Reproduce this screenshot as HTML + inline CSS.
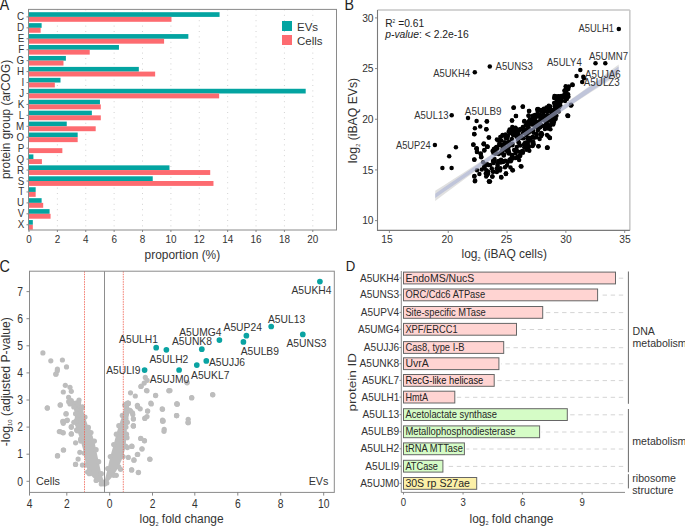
<!DOCTYPE html>
<html><head><meta charset="utf-8"><style>
html,body{margin:0;padding:0;background:#fff;}
svg{display:block;font-family:"Liberation Sans", sans-serif;}
</style></head><body>
<svg width="685" height="526" viewBox="0 0 685 526">
<text transform="translate(-0.20,9.50) scale(0.9091,1)" font-size="15.62" text-anchor="start" fill="#222" >A</text>
<line x1="57.38" y1="9.4" x2="57.38" y2="230.0" stroke="#d2d2d2" stroke-width="1" stroke-dasharray="1 4.4"/>
<line x1="85.76" y1="9.4" x2="85.76" y2="230.0" stroke="#d2d2d2" stroke-width="1" stroke-dasharray="1 4.4"/>
<line x1="114.14" y1="9.4" x2="114.14" y2="230.0" stroke="#d2d2d2" stroke-width="1" stroke-dasharray="1 4.4"/>
<line x1="142.52" y1="9.4" x2="142.52" y2="230.0" stroke="#d2d2d2" stroke-width="1" stroke-dasharray="1 4.4"/>
<line x1="170.90" y1="9.4" x2="170.90" y2="230.0" stroke="#d2d2d2" stroke-width="1" stroke-dasharray="1 4.4"/>
<line x1="199.28" y1="9.4" x2="199.28" y2="230.0" stroke="#d2d2d2" stroke-width="1" stroke-dasharray="1 4.4"/>
<line x1="227.66" y1="9.4" x2="227.66" y2="230.0" stroke="#d2d2d2" stroke-width="1" stroke-dasharray="1 4.4"/>
<line x1="256.04" y1="9.4" x2="256.04" y2="230.0" stroke="#d2d2d2" stroke-width="1" stroke-dasharray="1 4.4"/>
<line x1="284.42" y1="9.4" x2="284.42" y2="230.0" stroke="#d2d2d2" stroke-width="1" stroke-dasharray="1 4.4"/>
<line x1="312.80" y1="9.4" x2="312.80" y2="230.0" stroke="#d2d2d2" stroke-width="1" stroke-dasharray="1 4.4"/>
<rect x="28.5" y="12.20" width="191.07" height="4.7" fill="#03a4a1"/>
<rect x="28.5" y="16.90" width="142.97" height="4.9" fill="#fd6b70"/>
<text transform="translate(24.20,20.40) scale(0.8929,1)" font-size="10.98" text-anchor="end" fill="#333" >C</text>
<line x1="26.5" y1="16.90" x2="28.5" y2="16.90" stroke="#7a7a7a" stroke-width="0.9"/>
<rect x="28.5" y="23.14" width="13.13" height="4.7" fill="#03a4a1"/>
<rect x="28.5" y="27.84" width="12.14" height="4.9" fill="#fd6b70"/>
<text transform="translate(24.20,31.34) scale(0.8929,1)" font-size="10.98" text-anchor="end" fill="#333" >D</text>
<line x1="26.5" y1="27.84" x2="28.5" y2="27.84" stroke="#7a7a7a" stroke-width="0.9"/>
<rect x="28.5" y="34.08" width="159.85" height="4.7" fill="#03a4a1"/>
<rect x="28.5" y="38.78" width="135.59" height="4.9" fill="#fd6b70"/>
<text transform="translate(24.20,42.28) scale(0.8929,1)" font-size="10.98" text-anchor="end" fill="#333" >E</text>
<line x1="26.5" y1="38.78" x2="28.5" y2="38.78" stroke="#7a7a7a" stroke-width="0.9"/>
<rect x="28.5" y="45.02" width="90.46" height="4.7" fill="#03a4a1"/>
<rect x="28.5" y="49.72" width="61.23" height="4.9" fill="#fd6b70"/>
<text transform="translate(24.20,53.22) scale(0.8929,1)" font-size="10.98" text-anchor="end" fill="#333" >F</text>
<line x1="26.5" y1="49.72" x2="28.5" y2="49.72" stroke="#7a7a7a" stroke-width="0.9"/>
<rect x="28.5" y="55.96" width="37.39" height="4.7" fill="#03a4a1"/>
<rect x="28.5" y="60.66" width="34.98" height="4.9" fill="#fd6b70"/>
<text transform="translate(24.20,64.16) scale(0.8929,1)" font-size="10.98" text-anchor="end" fill="#333" >G</text>
<line x1="26.5" y1="60.66" x2="28.5" y2="60.66" stroke="#7a7a7a" stroke-width="0.9"/>
<rect x="28.5" y="66.90" width="110.33" height="4.7" fill="#03a4a1"/>
<rect x="28.5" y="71.60" width="126.65" height="4.9" fill="#fd6b70"/>
<text transform="translate(24.20,75.10) scale(0.8929,1)" font-size="10.98" text-anchor="end" fill="#333" >H</text>
<line x1="26.5" y1="71.60" x2="28.5" y2="71.60" stroke="#7a7a7a" stroke-width="0.9"/>
<rect x="28.5" y="77.84" width="32.00" height="4.7" fill="#03a4a1"/>
<rect x="28.5" y="82.54" width="26.33" height="4.9" fill="#fd6b70"/>
<text transform="translate(24.20,86.04) scale(0.8929,1)" font-size="10.98" text-anchor="end" fill="#333" >I</text>
<line x1="26.5" y1="82.54" x2="28.5" y2="82.54" stroke="#7a7a7a" stroke-width="0.9"/>
<rect x="28.5" y="88.78" width="277.20" height="4.7" fill="#03a4a1"/>
<rect x="28.5" y="93.48" width="190.65" height="4.9" fill="#fd6b70"/>
<text transform="translate(24.20,96.98) scale(0.8929,1)" font-size="10.98" text-anchor="end" fill="#333" >J</text>
<line x1="26.5" y1="93.48" x2="28.5" y2="93.48" stroke="#7a7a7a" stroke-width="0.9"/>
<rect x="28.5" y="99.72" width="71.45" height="4.7" fill="#03a4a1"/>
<rect x="28.5" y="104.42" width="72.30" height="4.9" fill="#fd6b70"/>
<text transform="translate(24.20,107.92) scale(0.8929,1)" font-size="10.98" text-anchor="end" fill="#333" >K</text>
<line x1="26.5" y1="104.42" x2="28.5" y2="104.42" stroke="#7a7a7a" stroke-width="0.9"/>
<rect x="28.5" y="110.66" width="63.36" height="4.7" fill="#03a4a1"/>
<rect x="28.5" y="115.36" width="72.30" height="4.9" fill="#fd6b70"/>
<text transform="translate(24.20,118.86) scale(0.8929,1)" font-size="10.98" text-anchor="end" fill="#333" >L</text>
<line x1="26.5" y1="115.36" x2="28.5" y2="115.36" stroke="#7a7a7a" stroke-width="0.9"/>
<rect x="28.5" y="121.60" width="38.25" height="4.7" fill="#03a4a1"/>
<rect x="28.5" y="126.30" width="67.19" height="4.9" fill="#fd6b70"/>
<text transform="translate(24.20,129.80) scale(0.8929,1)" font-size="10.98" text-anchor="end" fill="#333" >M</text>
<line x1="26.5" y1="126.30" x2="28.5" y2="126.30" stroke="#7a7a7a" stroke-width="0.9"/>
<rect x="28.5" y="132.54" width="49.17" height="4.7" fill="#03a4a1"/>
<rect x="28.5" y="137.24" width="49.17" height="4.9" fill="#fd6b70"/>
<text transform="translate(24.20,140.74) scale(0.8929,1)" font-size="10.98" text-anchor="end" fill="#333" >O</text>
<line x1="26.5" y1="137.24" x2="28.5" y2="137.24" stroke="#7a7a7a" stroke-width="0.9"/>
<rect x="28.5" y="148.18" width="33.85" height="4.9" fill="#fd6b70"/>
<text transform="translate(24.20,151.68) scale(0.8929,1)" font-size="10.98" text-anchor="end" fill="#333" >P</text>
<line x1="26.5" y1="148.18" x2="28.5" y2="148.18" stroke="#7a7a7a" stroke-width="0.9"/>
<rect x="28.5" y="154.42" width="4.90" height="4.7" fill="#03a4a1"/>
<rect x="28.5" y="159.12" width="13.41" height="4.9" fill="#fd6b70"/>
<text transform="translate(24.20,162.62) scale(0.8929,1)" font-size="10.98" text-anchor="end" fill="#333" >Q</text>
<line x1="26.5" y1="159.12" x2="28.5" y2="159.12" stroke="#7a7a7a" stroke-width="0.9"/>
<rect x="28.5" y="165.36" width="140.98" height="4.7" fill="#03a4a1"/>
<rect x="28.5" y="170.06" width="181.71" height="4.9" fill="#fd6b70"/>
<text transform="translate(24.20,173.56) scale(0.8929,1)" font-size="10.98" text-anchor="end" fill="#333" >R</text>
<line x1="26.5" y1="170.06" x2="28.5" y2="170.06" stroke="#7a7a7a" stroke-width="0.9"/>
<rect x="28.5" y="176.30" width="124.24" height="4.7" fill="#03a4a1"/>
<rect x="28.5" y="181.00" width="184.97" height="4.9" fill="#fd6b70"/>
<text transform="translate(24.20,184.50) scale(0.8929,1)" font-size="10.98" text-anchor="end" fill="#333" >S</text>
<line x1="26.5" y1="181.00" x2="28.5" y2="181.00" stroke="#7a7a7a" stroke-width="0.9"/>
<rect x="28.5" y="187.24" width="7.17" height="4.7" fill="#03a4a1"/>
<rect x="28.5" y="191.94" width="7.17" height="4.9" fill="#fd6b70"/>
<text transform="translate(24.20,195.44) scale(0.8929,1)" font-size="10.98" text-anchor="end" fill="#333" >T</text>
<line x1="26.5" y1="191.94" x2="28.5" y2="191.94" stroke="#7a7a7a" stroke-width="0.9"/>
<rect x="28.5" y="198.18" width="13.13" height="4.7" fill="#03a4a1"/>
<rect x="28.5" y="202.88" width="14.69" height="4.9" fill="#fd6b70"/>
<text transform="translate(24.20,206.38) scale(0.8929,1)" font-size="10.98" text-anchor="end" fill="#333" >U</text>
<line x1="26.5" y1="202.88" x2="28.5" y2="202.88" stroke="#7a7a7a" stroke-width="0.9"/>
<rect x="28.5" y="209.12" width="21.08" height="4.7" fill="#03a4a1"/>
<rect x="28.5" y="213.82" width="22.07" height="4.9" fill="#fd6b70"/>
<text transform="translate(24.20,217.32) scale(0.8929,1)" font-size="10.98" text-anchor="end" fill="#333" >V</text>
<line x1="26.5" y1="213.82" x2="28.5" y2="213.82" stroke="#7a7a7a" stroke-width="0.9"/>
<rect x="28.5" y="220.06" width="4.33" height="4.7" fill="#03a4a1"/>
<rect x="28.5" y="224.76" width="4.33" height="4.9" fill="#fd6b70"/>
<text transform="translate(24.20,228.26) scale(0.8929,1)" font-size="10.98" text-anchor="end" fill="#333" >X</text>
<line x1="26.5" y1="224.76" x2="28.5" y2="224.76" stroke="#7a7a7a" stroke-width="0.9"/>
<rect x="28.5" y="9.4" width="308.0" height="220.6" fill="none" stroke="#8a8a8a" stroke-width="1"/>
<line x1="29.00" y1="230.0" x2="29.00" y2="232.0" stroke="#7a7a7a" stroke-width="0.9"/>
<text transform="translate(29.00,243.00) scale(0.8929,1)" font-size="11.09" text-anchor="middle" fill="#333" >0</text>
<line x1="57.38" y1="230.0" x2="57.38" y2="232.0" stroke="#7a7a7a" stroke-width="0.9"/>
<text transform="translate(57.38,243.00) scale(0.8929,1)" font-size="11.09" text-anchor="middle" fill="#333" >2</text>
<line x1="85.76" y1="230.0" x2="85.76" y2="232.0" stroke="#7a7a7a" stroke-width="0.9"/>
<text transform="translate(85.76,243.00) scale(0.8929,1)" font-size="11.09" text-anchor="middle" fill="#333" >4</text>
<line x1="114.14" y1="230.0" x2="114.14" y2="232.0" stroke="#7a7a7a" stroke-width="0.9"/>
<text transform="translate(114.14,243.00) scale(0.8929,1)" font-size="11.09" text-anchor="middle" fill="#333" >6</text>
<line x1="142.52" y1="230.0" x2="142.52" y2="232.0" stroke="#7a7a7a" stroke-width="0.9"/>
<text transform="translate(142.52,243.00) scale(0.8929,1)" font-size="11.09" text-anchor="middle" fill="#333" >8</text>
<line x1="170.90" y1="230.0" x2="170.90" y2="232.0" stroke="#7a7a7a" stroke-width="0.9"/>
<text transform="translate(170.90,243.00) scale(0.8929,1)" font-size="11.09" text-anchor="middle" fill="#333" >10</text>
<line x1="199.28" y1="230.0" x2="199.28" y2="232.0" stroke="#7a7a7a" stroke-width="0.9"/>
<text transform="translate(199.28,243.00) scale(0.8929,1)" font-size="11.09" text-anchor="middle" fill="#333" >12</text>
<line x1="227.66" y1="230.0" x2="227.66" y2="232.0" stroke="#7a7a7a" stroke-width="0.9"/>
<text transform="translate(227.66,243.00) scale(0.8929,1)" font-size="11.09" text-anchor="middle" fill="#333" >14</text>
<line x1="256.04" y1="230.0" x2="256.04" y2="232.0" stroke="#7a7a7a" stroke-width="0.9"/>
<text transform="translate(256.04,243.00) scale(0.8929,1)" font-size="11.09" text-anchor="middle" fill="#333" >16</text>
<line x1="284.42" y1="230.0" x2="284.42" y2="232.0" stroke="#7a7a7a" stroke-width="0.9"/>
<text transform="translate(284.42,243.00) scale(0.8929,1)" font-size="11.09" text-anchor="middle" fill="#333" >18</text>
<line x1="312.80" y1="230.0" x2="312.80" y2="232.0" stroke="#7a7a7a" stroke-width="0.9"/>
<text transform="translate(312.80,243.00) scale(0.8929,1)" font-size="11.09" text-anchor="middle" fill="#333" >20</text>
<text x="182.40" y="258.70" font-size="11.90" text-anchor="middle" fill="#333" textLength="75.6" lengthAdjust="spacingAndGlyphs" >proportion (%)</text>
<text transform="translate(9.9,119.45) rotate(-90)" font-size="11.9" text-anchor="middle" fill="#333" textLength="119.1" lengthAdjust="spacingAndGlyphs">protein group (arCOG)</text>
<rect x="282" y="21" width="10" height="10" fill="#03a4a1"/>
<rect x="282" y="35" width="10" height="10" fill="#fd6b70"/>
<text x="297.00" y="31.00" font-size="11.5" text-anchor="start" fill="#333" >EVs</text>
<text x="297.00" y="45.00" font-size="11.5" text-anchor="start" fill="#333" >Cells</text>
<text transform="translate(345.80,271.40) scale(0.9524,1)" font-size="13.86" text-anchor="start" fill="#222" >D</text>
<line x1="623.2" y1="278.20" x2="617.50" y2="278.20" stroke="#d4d4d4" stroke-width="1" stroke-dasharray="4.4 3.7"/>
<rect x="403.5" y="272.10" width="212.00" height="11.8" fill="#ffd4d2" stroke="#666" stroke-width="1"/>
<text x="405.40" y="281.50" font-size="11.04" text-anchor="start" fill="#262626" textLength="68.9" lengthAdjust="spacingAndGlyphs" >EndoMS/NucS</text>
<text x="399.20" y="281.50" font-size="10.98" text-anchor="end" fill="#333" textLength="39.3" lengthAdjust="spacingAndGlyphs" >A5UKH4</text>
<line x1="399.5" y1="278.00" x2="401.3" y2="278.00" stroke="#7a7a7a" stroke-width="0.9"/>
<line x1="623.2" y1="295.10" x2="599.60" y2="295.10" stroke="#d4d4d4" stroke-width="1" stroke-dasharray="4.4 3.7"/>
<rect x="403.5" y="289.00" width="194.10" height="11.8" fill="#ffd4d2" stroke="#666" stroke-width="1"/>
<text x="405.40" y="298.40" font-size="11.04" text-anchor="start" fill="#262626" textLength="79.8" lengthAdjust="spacingAndGlyphs" >ORC/Cdc6 ATPase</text>
<text x="399.20" y="298.40" font-size="10.98" text-anchor="end" fill="#333" textLength="39.3" lengthAdjust="spacingAndGlyphs" >A5UNS3</text>
<line x1="399.5" y1="294.90" x2="401.3" y2="294.90" stroke="#7a7a7a" stroke-width="0.9"/>
<line x1="623.2" y1="312.60" x2="544.70" y2="312.60" stroke="#d4d4d4" stroke-width="1" stroke-dasharray="4.4 3.7"/>
<rect x="403.5" y="306.50" width="139.20" height="11.8" fill="#ffd4d2" stroke="#666" stroke-width="1"/>
<text x="405.40" y="315.90" font-size="11.04" text-anchor="start" fill="#262626" textLength="80.4" lengthAdjust="spacingAndGlyphs" >Site-specific MTase</text>
<text x="399.20" y="315.90" font-size="10.98" text-anchor="end" fill="#333" textLength="38.4" lengthAdjust="spacingAndGlyphs" >A5UPV4</text>
<line x1="399.5" y1="312.40" x2="401.3" y2="312.40" stroke="#7a7a7a" stroke-width="0.9"/>
<line x1="623.2" y1="329.50" x2="518.50" y2="329.50" stroke="#d4d4d4" stroke-width="1" stroke-dasharray="4.4 3.7"/>
<rect x="403.5" y="323.40" width="113.00" height="11.8" fill="#ffd4d2" stroke="#666" stroke-width="1"/>
<text x="405.40" y="332.80" font-size="11.04" text-anchor="start" fill="#262626" textLength="52.2" lengthAdjust="spacingAndGlyphs" >XPF/ERCC1</text>
<text x="399.20" y="332.80" font-size="10.98" text-anchor="end" fill="#333" textLength="41.1" lengthAdjust="spacingAndGlyphs" >A5UMG4</text>
<line x1="399.5" y1="329.30" x2="401.3" y2="329.30" stroke="#7a7a7a" stroke-width="0.9"/>
<line x1="623.2" y1="347.70" x2="505.70" y2="347.70" stroke="#d4d4d4" stroke-width="1" stroke-dasharray="4.4 3.7"/>
<rect x="403.5" y="341.60" width="100.20" height="11.8" fill="#ffd4d2" stroke="#666" stroke-width="1"/>
<text x="405.40" y="351.00" font-size="11.04" text-anchor="start" fill="#262626" textLength="59.2" lengthAdjust="spacingAndGlyphs" >Cas8, type I-B</text>
<text x="399.20" y="351.00" font-size="10.98" text-anchor="end" fill="#333" textLength="35.4" lengthAdjust="spacingAndGlyphs" >A5UJJ6</text>
<line x1="399.5" y1="347.50" x2="401.3" y2="347.50" stroke="#7a7a7a" stroke-width="0.9"/>
<line x1="623.2" y1="363.90" x2="500.90" y2="363.90" stroke="#d4d4d4" stroke-width="1" stroke-dasharray="4.4 3.7"/>
<rect x="403.5" y="357.80" width="95.40" height="11.8" fill="#ffd4d2" stroke="#666" stroke-width="1"/>
<text x="405.40" y="367.20" font-size="11.04" text-anchor="start" fill="#262626" textLength="23.3" lengthAdjust="spacingAndGlyphs" >UvrA</text>
<text x="399.20" y="367.20" font-size="10.98" text-anchor="end" fill="#333" textLength="39.7" lengthAdjust="spacingAndGlyphs" >A5UNK8</text>
<line x1="399.5" y1="363.70" x2="401.3" y2="363.70" stroke="#7a7a7a" stroke-width="0.9"/>
<line x1="623.2" y1="380.60" x2="496.20" y2="380.60" stroke="#d4d4d4" stroke-width="1" stroke-dasharray="4.4 3.7"/>
<rect x="403.5" y="374.50" width="90.70" height="11.8" fill="#ffd4d2" stroke="#666" stroke-width="1"/>
<text x="405.40" y="383.90" font-size="11.04" text-anchor="start" fill="#111" textLength="77.9" lengthAdjust="spacingAndGlyphs" >RecG-like helicase</text>
<text x="399.20" y="383.90" font-size="10.98" text-anchor="end" fill="#333" textLength="37.3" lengthAdjust="spacingAndGlyphs" >A5UKL7</text>
<line x1="399.5" y1="380.40" x2="401.3" y2="380.40" stroke="#7a7a7a" stroke-width="0.9"/>
<line x1="623.2" y1="397.30" x2="456.80" y2="397.30" stroke="#d4d4d4" stroke-width="1" stroke-dasharray="4.4 3.7"/>
<rect x="403.5" y="391.20" width="51.30" height="11.8" fill="#ffd4d2" stroke="#666" stroke-width="1"/>
<text x="405.40" y="400.60" font-size="11.04" text-anchor="start" fill="#262626" textLength="22.7" lengthAdjust="spacingAndGlyphs" >HmtA</text>
<text x="399.20" y="400.60" font-size="10.98" text-anchor="end" fill="#333" textLength="37.7" lengthAdjust="spacingAndGlyphs" >A5ULH1</text>
<line x1="399.5" y1="397.10" x2="401.3" y2="397.10" stroke="#7a7a7a" stroke-width="0.9"/>
<line x1="623.2" y1="414.80" x2="569.30" y2="414.80" stroke="#d4d4d4" stroke-width="1" stroke-dasharray="4.4 3.7"/>
<rect x="403.5" y="408.70" width="163.80" height="11.8" fill="#d5fcc6" stroke="#666" stroke-width="1"/>
<text x="405.40" y="418.10" font-size="11.04" text-anchor="start" fill="#262626" textLength="91.6" lengthAdjust="spacingAndGlyphs" >Acetolactate synthase</text>
<text x="399.20" y="418.10" font-size="10.98" text-anchor="end" fill="#333" textLength="36.7" lengthAdjust="spacingAndGlyphs" >A5UL13</text>
<line x1="399.5" y1="414.60" x2="401.3" y2="414.60" stroke="#7a7a7a" stroke-width="0.9"/>
<line x1="623.2" y1="432.00" x2="541.60" y2="432.00" stroke="#d4d4d4" stroke-width="1" stroke-dasharray="4.4 3.7"/>
<rect x="403.5" y="425.90" width="136.10" height="11.8" fill="#d5fcc6" stroke="#666" stroke-width="1"/>
<text x="405.40" y="435.30" font-size="11.04" text-anchor="start" fill="#262626" textLength="110" lengthAdjust="spacingAndGlyphs" >Metallophosphodiesterase</text>
<text x="399.20" y="435.30" font-size="10.98" text-anchor="end" fill="#333" textLength="37.9" lengthAdjust="spacingAndGlyphs" >A5ULB9</text>
<line x1="399.5" y1="431.80" x2="401.3" y2="431.80" stroke="#7a7a7a" stroke-width="0.9"/>
<line x1="623.2" y1="449.00" x2="466.40" y2="449.00" stroke="#d4d4d4" stroke-width="1" stroke-dasharray="4.4 3.7"/>
<rect x="403.5" y="442.90" width="60.90" height="11.8" fill="#d5fcc6" stroke="#666" stroke-width="1"/>
<text x="405.40" y="452.30" font-size="11.04" text-anchor="start" fill="#262626" textLength="57.5" lengthAdjust="spacingAndGlyphs" >tRNA MTTase</text>
<text x="399.20" y="452.30" font-size="10.98" text-anchor="end" fill="#333" textLength="38.8" lengthAdjust="spacingAndGlyphs" >A5ULH2</text>
<line x1="399.5" y1="448.80" x2="401.3" y2="448.80" stroke="#7a7a7a" stroke-width="0.9"/>
<line x1="623.2" y1="466.40" x2="444.90" y2="466.40" stroke="#d4d4d4" stroke-width="1" stroke-dasharray="4.4 3.7"/>
<rect x="403.5" y="460.30" width="39.40" height="11.8" fill="#d5fcc6" stroke="#666" stroke-width="1"/>
<text x="405.40" y="469.70" font-size="11.04" text-anchor="start" fill="#262626" textLength="32.6" lengthAdjust="spacingAndGlyphs" >ATCase</text>
<text x="399.20" y="469.70" font-size="10.98" text-anchor="end" fill="#333" textLength="33.9" lengthAdjust="spacingAndGlyphs" >A5ULI9</text>
<line x1="399.5" y1="466.20" x2="401.3" y2="466.20" stroke="#7a7a7a" stroke-width="0.9"/>
<line x1="623.2" y1="483.60" x2="478.70" y2="483.60" stroke="#d4d4d4" stroke-width="1" stroke-dasharray="4.4 3.7"/>
<rect x="403.5" y="477.50" width="73.20" height="11.8" fill="#fcf0a8" stroke="#666" stroke-width="1"/>
<text x="405.40" y="486.90" font-size="11.04" text-anchor="start" fill="#262626" textLength="64.5" lengthAdjust="spacingAndGlyphs" >30S rp S27ae</text>
<text x="399.20" y="486.90" font-size="10.98" text-anchor="end" fill="#333" textLength="39.0" lengthAdjust="spacingAndGlyphs" >A5UJM0</text>
<line x1="399.5" y1="483.40" x2="401.3" y2="483.40" stroke="#7a7a7a" stroke-width="0.9"/>
<polyline points="401.3,271 401.3,492.4 625,492.4" fill="none" stroke="#8a8a8a" stroke-width="1"/>
<line x1="403.50" y1="492.4" x2="403.50" y2="494.5" stroke="#7a7a7a" stroke-width="0.9"/>
<text transform="translate(403.50,506.40) scale(0.8929,1)" font-size="10.75" text-anchor="middle" fill="#333" >0</text>
<line x1="463.05" y1="492.4" x2="463.05" y2="494.5" stroke="#7a7a7a" stroke-width="0.9"/>
<text transform="translate(463.05,506.40) scale(0.8929,1)" font-size="10.75" text-anchor="middle" fill="#333" >3</text>
<line x1="522.60" y1="492.4" x2="522.60" y2="494.5" stroke="#7a7a7a" stroke-width="0.9"/>
<text transform="translate(522.60,506.40) scale(0.8929,1)" font-size="10.75" text-anchor="middle" fill="#333" >6</text>
<line x1="582.15" y1="492.4" x2="582.15" y2="494.5" stroke="#7a7a7a" stroke-width="0.9"/>
<text transform="translate(582.15,506.40) scale(0.8929,1)" font-size="10.75" text-anchor="middle" fill="#333" >9</text>
<text x="511.5" y="522.7" font-size="11.9" text-anchor="middle" fill="#333" textLength="83.9" lengthAdjust="spacingAndGlyphs">log<tspan font-size="5.5" dy="2.5">2</tspan><tspan dy="-2.5"> fold change</tspan></text>
<text transform="translate(356.3,382.2) rotate(-90)" font-size="11.3" text-anchor="middle" fill="#333" textLength="58.6" lengthAdjust="spacingAndGlyphs">protein ID</text>
<line x1="628.4" y1="271.5" x2="628.4" y2="403.8" stroke="#6a6a6a" stroke-width="1"/>
<line x1="628.4" y1="409" x2="628.4" y2="472.2" stroke="#6a6a6a" stroke-width="1"/>
<line x1="628.4" y1="474.2" x2="628.4" y2="488.4" stroke="#6a6a6a" stroke-width="1"/>
<text transform="translate(632.50,335.00) scale(0.9434,1)" font-size="11.24" text-anchor="start" fill="#333" >DNA</text>
<text transform="translate(632.50,346.50) scale(0.9434,1)" font-size="11.24" text-anchor="start" fill="#333" >metabolism</text>
<text transform="translate(632.30,444.60) scale(0.9434,1)" font-size="11.24" text-anchor="start" fill="#333" >metabolism</text>
<text transform="translate(632.30,482.10) scale(0.9434,1)" font-size="11.24" text-anchor="start" fill="#333" >ribosome</text>
<text transform="translate(632.30,493.60) scale(0.9434,1)" font-size="11.24" text-anchor="start" fill="#333" >structure</text>
<text transform="translate(344.40,10.40) scale(0.8929,1)" font-size="15.90" text-anchor="start" fill="#222" >B</text>
<line x1="377.5" y1="10.0" x2="629.85" y2="10.0" stroke="#c6c6c6" stroke-width="1.5"/>
<line x1="629.85" y1="10.0" x2="629.85" y2="230.4" stroke="#c6c6c6" stroke-width="1.5"/>
<polyline points="377.5,10.0 377.5,230.4 629.85,230.4" fill="none" stroke="#7a7a7a" stroke-width="1.1"/>
<line x1="375.0" y1="220.60" x2="377.5" y2="220.60" stroke="#7a7a7a" stroke-width="0.9"/>
<text transform="translate(373.60,224.30) scale(0.8929,1)" font-size="11.54" text-anchor="end" fill="#333" >10</text>
<line x1="375.0" y1="169.93" x2="377.5" y2="169.93" stroke="#7a7a7a" stroke-width="0.9"/>
<text transform="translate(373.60,173.62) scale(0.8929,1)" font-size="11.54" text-anchor="end" fill="#333" >15</text>
<line x1="375.0" y1="119.25" x2="377.5" y2="119.25" stroke="#7a7a7a" stroke-width="0.9"/>
<text transform="translate(373.60,122.95) scale(0.8929,1)" font-size="11.54" text-anchor="end" fill="#333" >20</text>
<line x1="375.0" y1="68.57" x2="377.5" y2="68.57" stroke="#7a7a7a" stroke-width="0.9"/>
<text transform="translate(373.60,72.27) scale(0.8929,1)" font-size="11.54" text-anchor="end" fill="#333" >25</text>
<line x1="375.0" y1="17.90" x2="377.5" y2="17.90" stroke="#7a7a7a" stroke-width="0.9"/>
<text transform="translate(373.60,21.60) scale(0.8929,1)" font-size="11.54" text-anchor="end" fill="#333" >30</text>
<line x1="389.40" y1="230.4" x2="389.40" y2="232.9" stroke="#7a7a7a" stroke-width="0.9"/>
<text transform="translate(386.90,243.20) scale(0.8929,1)" font-size="11.54" text-anchor="middle" fill="#333" >15</text>
<line x1="448.22" y1="230.4" x2="448.22" y2="232.9" stroke="#7a7a7a" stroke-width="0.9"/>
<text transform="translate(447.30,243.20) scale(0.8929,1)" font-size="11.54" text-anchor="middle" fill="#333" >20</text>
<line x1="507.05" y1="230.4" x2="507.05" y2="232.9" stroke="#7a7a7a" stroke-width="0.9"/>
<text transform="translate(506.50,243.20) scale(0.8929,1)" font-size="11.54" text-anchor="middle" fill="#333" >25</text>
<line x1="565.88" y1="230.4" x2="565.88" y2="232.9" stroke="#7a7a7a" stroke-width="0.9"/>
<text transform="translate(565.90,243.20) scale(0.8929,1)" font-size="11.54" text-anchor="middle" fill="#333" >30</text>
<line x1="624.70" y1="230.4" x2="624.70" y2="232.9" stroke="#7a7a7a" stroke-width="0.9"/>
<text transform="translate(624.90,243.20) scale(0.8929,1)" font-size="11.54" text-anchor="middle" fill="#333" >35</text>
<text x="504.2" y="258.2" font-size="12" text-anchor="middle" fill="#333" textLength="85.4" lengthAdjust="spacingAndGlyphs">log<tspan font-size="5.5" dy="2.5">2</tspan><tspan dy="-2.5"> (iBAQ cells)</tspan></text>
<text transform="translate(357.3,120.5) rotate(-90)" font-size="12" text-anchor="middle" fill="#333" textLength="85.3" lengthAdjust="spacingAndGlyphs">log<tspan font-size="5.5" dy="2.5">2</tspan><tspan dy="-2.5"> (iBAQ EVs)</tspan></text>
<text x="385.2" y="27" font-size="10.5" fill="#222" textLength="38.9" lengthAdjust="spacingAndGlyphs">R<tspan font-size="5" dy="-4.5">2</tspan><tspan dy="4.5"> =0.61</tspan></text>
<text x="385.2" y="38.2" font-size="10.5" fill="#222" textLength="83.6" lengthAdjust="spacingAndGlyphs"><tspan font-style="italic">p-value</tspan>: &lt; 2.2e-16</text>
<g fill="#000"><circle cx="451.7" cy="115.2" r="2.25"/><circle cx="468.0" cy="117.9" r="2.25"/><circle cx="476.6" cy="121.1" r="2.25"/><circle cx="486.8" cy="121.5" r="2.25"/><circle cx="480.2" cy="126.4" r="2.25"/><circle cx="474.9" cy="128.2" r="2.25"/><circle cx="486.3" cy="129.2" r="2.25"/><circle cx="474.2" cy="133.9" r="2.25"/><circle cx="488.7" cy="137.5" r="2.25"/><circle cx="434.9" cy="144.9" r="2.25"/><circle cx="455.9" cy="147.2" r="2.25"/><circle cx="473.3" cy="144.7" r="2.25"/><circle cx="476.6" cy="148.3" r="2.25"/><circle cx="483.7" cy="144.2" r="2.25"/><circle cx="487.0" cy="146.6" r="2.25"/><circle cx="449.2" cy="156.3" r="2.25"/><circle cx="442.4" cy="167.9" r="2.25"/><circle cx="451.6" cy="167.9" r="2.25"/><circle cx="483.8" cy="144.0" r="2.25"/><circle cx="487.5" cy="146.8" r="2.25"/><circle cx="476.7" cy="148.7" r="2.25"/><circle cx="477.0" cy="151.7" r="2.25"/><circle cx="484.4" cy="149.9" r="2.25"/><circle cx="480.7" cy="153.6" r="2.25"/><circle cx="481.3" cy="156.7" r="2.25"/><circle cx="474.3" cy="159.4" r="2.25"/><circle cx="483.2" cy="162.2" r="2.25"/><circle cx="493.0" cy="151.1" r="2.25"/><circle cx="495.5" cy="148.0" r="2.25"/><circle cx="499.2" cy="144.9" r="2.25"/><circle cx="493.0" cy="161.0" r="2.25"/><circle cx="477.0" cy="170.3" r="2.25"/><circle cx="479.4" cy="174.0" r="2.25"/><circle cx="474.3" cy="176.5" r="2.25"/><circle cx="475.1" cy="180.5" r="2.25"/><circle cx="488.1" cy="171.5" r="2.25"/><circle cx="486.2" cy="176.5" r="2.25"/><circle cx="492.4" cy="176.5" r="2.25"/><circle cx="489.1" cy="181.8" r="2.25"/><circle cx="501.1" cy="177.1" r="2.25"/><circle cx="506.0" cy="173.6" r="2.25"/><circle cx="484.4" cy="167.8" r="2.25"/><circle cx="491.8" cy="168.4" r="2.25"/><circle cx="496.7" cy="168.4" r="2.25"/><circle cx="513.5" cy="107.8" r="2.25"/><circle cx="522.8" cy="106.4" r="2.25"/><circle cx="529.2" cy="110.9" r="2.25"/><circle cx="515.9" cy="115.9" r="2.25"/><circle cx="528.7" cy="115.6" r="2.25"/><circle cx="512.1" cy="120.6" r="2.25"/><circle cx="524.4" cy="121.1" r="2.25"/><circle cx="486.9" cy="121.3" r="2.25"/><circle cx="486.4" cy="129.2" r="2.25"/><circle cx="537.8" cy="109.2" r="2.25"/><circle cx="534.9" cy="114.9" r="2.25"/><circle cx="547.0" cy="147.8" r="2.25"/><circle cx="538.5" cy="146.3" r="2.25"/><circle cx="529.3" cy="150.8" r="2.25"/><circle cx="520.8" cy="166.2" r="2.25"/><circle cx="519.1" cy="160.0" r="2.25"/><circle cx="512.8" cy="170.2" r="2.25"/><circle cx="506.0" cy="173.6" r="2.25"/><circle cx="501.4" cy="177.6" r="2.25"/><circle cx="492.3" cy="176.5" r="2.25"/><circle cx="490.0" cy="181.6" r="2.25"/><circle cx="493.4" cy="161.1" r="2.25"/><circle cx="498.6" cy="161.1" r="2.25"/><circle cx="509.4" cy="161.1" r="2.25"/><circle cx="510.5" cy="167.4" r="2.25"/><circle cx="595.5" cy="63.3" r="2.25"/><circle cx="605.3" cy="63.3" r="2.25"/><circle cx="580.3" cy="69.9" r="2.25"/><circle cx="576.5" cy="76.0" r="2.25"/><circle cx="583.3" cy="76.7" r="2.25"/><circle cx="584.0" cy="78.2" r="2.25"/><circle cx="582.2" cy="82.0" r="2.25"/><circle cx="572.7" cy="85.1" r="2.25"/><circle cx="568.9" cy="86.6" r="2.25"/><circle cx="565.8" cy="88.9" r="2.25"/><circle cx="565.0" cy="90.4" r="2.25"/><circle cx="568.1" cy="94.2" r="2.25"/><circle cx="563.6" cy="96.5" r="2.25"/><circle cx="555.2" cy="96.5" r="2.25"/><circle cx="556.7" cy="101.0" r="2.25"/><circle cx="561.3" cy="99.5" r="2.25"/><circle cx="565.0" cy="101.0" r="2.25"/><circle cx="571.2" cy="104.8" r="2.25"/><circle cx="567.4" cy="115.5" r="2.25"/><circle cx="553.7" cy="118.5" r="2.25"/><circle cx="551.4" cy="123.8" r="2.25"/><circle cx="568.1" cy="115.8" r="2.25"/><circle cx="571.3" cy="105.3" r="2.25"/><circle cx="554.4" cy="119.0" r="2.25"/><circle cx="553.2" cy="124.6" r="2.25"/><circle cx="550.4" cy="129.2" r="2.25"/><circle cx="549.8" cy="137.8" r="2.25"/><circle cx="547.0" cy="134.9" r="2.25"/><circle cx="547.5" cy="147.7" r="2.25"/><circle cx="538.4" cy="146.3" r="2.25"/><circle cx="539.6" cy="138.9" r="2.25"/><circle cx="537.3" cy="109.3" r="2.25"/><circle cx="618.8" cy="28.9" r="2.25"/><circle cx="474.8" cy="72.3" r="2.25"/><circle cx="489.8" cy="66.5" r="2.25"/><circle cx="513.8" cy="107.6" r="2.25"/><circle cx="522.8" cy="106.7" r="2.25"/><circle cx="529.0" cy="110.9" r="2.25"/><circle cx="516.0" cy="116.0" r="2.25"/><circle cx="528.5" cy="115.7" r="2.25"/><circle cx="511.9" cy="120.4" r="2.25"/><circle cx="524.2" cy="121.4" r="2.25"/><circle cx="538.0" cy="109.0" r="2.25"/><circle cx="548.5" cy="136.6" r="2.25"/><circle cx="549.9" cy="138.0" r="2.25"/><circle cx="547.5" cy="147.5" r="2.25"/><circle cx="474.4" cy="176.0" r="2.25"/><circle cx="474.9" cy="181.2" r="2.25"/><circle cx="489.0" cy="181.2" r="2.25"/><circle cx="505.8" cy="173.9" r="2.25"/><circle cx="512.5" cy="170.2" r="2.25"/><circle cx="521.4" cy="166.6" r="2.25"/><circle cx="474.4" cy="159.8" r="2.25"/><circle cx="473.4" cy="144.6" r="2.25"/><circle cx="474.4" cy="134.2" r="2.25"/><circle cx="489.0" cy="137.5" r="2.25"/><circle cx="496.9" cy="139.4" r="2.25"/><circle cx="483.8" cy="143.6" r="2.25"/><circle cx="487.5" cy="146.7" r="2.25"/><circle cx="476.5" cy="148.8" r="2.25"/><circle cx="477.0" cy="152.0" r="2.25"/><circle cx="484.3" cy="150.4" r="2.25"/><circle cx="480.7" cy="154.0" r="2.25"/><circle cx="481.2" cy="157.2" r="2.25"/><circle cx="492.7" cy="150.9" r="2.25"/><circle cx="499.5" cy="143.6" r="2.25"/><circle cx="555.7" cy="118.7" r="2.25"/><circle cx="553.8" cy="122.5" r="2.25"/><circle cx="568.0" cy="115.9" r="2.25"/><circle cx="570.9" cy="105.4" r="2.25"/><circle cx="534.3" cy="120.3" r="2.25"/><circle cx="558.7" cy="100.1" r="2.25"/><circle cx="540.6" cy="118.1" r="2.25"/><circle cx="496.4" cy="147.0" r="2.25"/><circle cx="507.5" cy="138.1" r="2.25"/><circle cx="500.3" cy="137.0" r="2.25"/><circle cx="507.4" cy="148.4" r="2.25"/><circle cx="534.6" cy="125.9" r="2.25"/><circle cx="564.4" cy="90.7" r="2.25"/><circle cx="523.0" cy="128.5" r="2.25"/><circle cx="502.4" cy="160.9" r="2.25"/><circle cx="546.5" cy="107.6" r="2.25"/><circle cx="524.4" cy="144.4" r="2.25"/><circle cx="542.5" cy="116.0" r="2.25"/><circle cx="559.8" cy="102.9" r="2.25"/><circle cx="522.2" cy="137.9" r="2.25"/><circle cx="526.6" cy="133.0" r="2.25"/><circle cx="557.0" cy="99.3" r="2.25"/><circle cx="508.7" cy="131.8" r="2.25"/><circle cx="503.7" cy="155.6" r="2.25"/><circle cx="537.9" cy="130.6" r="2.25"/><circle cx="546.1" cy="125.6" r="2.25"/><circle cx="561.2" cy="96.0" r="2.25"/><circle cx="567.0" cy="97.6" r="2.25"/><circle cx="516.1" cy="128.9" r="2.25"/><circle cx="560.4" cy="98.3" r="2.25"/><circle cx="532.0" cy="124.5" r="2.25"/><circle cx="509.2" cy="141.7" r="2.25"/><circle cx="554.9" cy="108.5" r="2.25"/><circle cx="559.0" cy="107.4" r="2.25"/><circle cx="552.9" cy="110.3" r="2.25"/><circle cx="519.5" cy="129.6" r="2.25"/><circle cx="515.5" cy="130.7" r="2.25"/><circle cx="540.3" cy="121.1" r="2.25"/><circle cx="523.9" cy="130.3" r="2.25"/><circle cx="558.3" cy="96.2" r="2.25"/><circle cx="532.4" cy="142.0" r="2.25"/><circle cx="544.9" cy="129.0" r="2.25"/><circle cx="526.8" cy="133.4" r="2.25"/><circle cx="502.5" cy="151.6" r="2.25"/><circle cx="524.3" cy="147.3" r="2.25"/><circle cx="501.3" cy="152.9" r="2.25"/><circle cx="544.4" cy="110.4" r="2.25"/><circle cx="522.8" cy="126.9" r="2.25"/><circle cx="496.8" cy="171.9" r="2.25"/><circle cx="525.6" cy="125.4" r="2.25"/><circle cx="507.7" cy="162.0" r="2.25"/><circle cx="550.2" cy="125.4" r="2.25"/><circle cx="541.2" cy="110.0" r="2.25"/><circle cx="502.0" cy="144.7" r="2.25"/><circle cx="532.3" cy="120.1" r="2.25"/><circle cx="551.9" cy="121.9" r="2.25"/><circle cx="523.7" cy="138.2" r="2.25"/><circle cx="528.7" cy="147.1" r="2.25"/><circle cx="555.3" cy="104.9" r="2.25"/><circle cx="541.3" cy="111.6" r="2.25"/><circle cx="528.9" cy="137.8" r="2.25"/><circle cx="547.3" cy="112.0" r="2.25"/><circle cx="526.3" cy="146.4" r="2.25"/><circle cx="559.1" cy="104.8" r="2.25"/><circle cx="553.0" cy="110.8" r="2.25"/><circle cx="488.0" cy="173.6" r="2.25"/><circle cx="481.8" cy="169.5" r="2.25"/><circle cx="502.2" cy="150.4" r="2.25"/><circle cx="537.4" cy="113.9" r="2.25"/><circle cx="512.3" cy="156.6" r="2.25"/><circle cx="495.5" cy="153.8" r="2.25"/><circle cx="526.3" cy="149.7" r="2.25"/><circle cx="533.3" cy="118.1" r="2.25"/><circle cx="508.8" cy="146.8" r="2.25"/><circle cx="515.8" cy="134.8" r="2.25"/><circle cx="546.4" cy="121.6" r="2.25"/><circle cx="507.3" cy="136.3" r="2.25"/><circle cx="495.5" cy="151.5" r="2.25"/><circle cx="513.3" cy="130.5" r="2.25"/><circle cx="559.6" cy="98.1" r="2.25"/><circle cx="516.2" cy="131.7" r="2.25"/><circle cx="536.6" cy="134.7" r="2.25"/><circle cx="534.9" cy="123.1" r="2.25"/><circle cx="558.7" cy="96.6" r="2.25"/><circle cx="566.8" cy="98.9" r="2.25"/><circle cx="540.4" cy="116.9" r="2.25"/><circle cx="532.1" cy="137.6" r="2.25"/><circle cx="515.7" cy="158.0" r="2.25"/><circle cx="512.2" cy="154.9" r="2.25"/><circle cx="493.4" cy="152.9" r="2.25"/><circle cx="559.1" cy="106.9" r="2.25"/><circle cx="543.2" cy="112.5" r="2.25"/><circle cx="538.3" cy="123.7" r="2.25"/><circle cx="566.8" cy="95.5" r="2.25"/><circle cx="539.1" cy="127.7" r="2.25"/><circle cx="541.2" cy="135.9" r="2.25"/><circle cx="541.3" cy="124.8" r="2.25"/><circle cx="550.3" cy="106.4" r="2.25"/><circle cx="527.2" cy="143.3" r="2.25"/><circle cx="522.9" cy="152.8" r="2.25"/><circle cx="502.6" cy="135.1" r="2.25"/><circle cx="497.6" cy="165.7" r="2.25"/><circle cx="551.6" cy="113.8" r="2.25"/><circle cx="568.4" cy="96.7" r="2.25"/><circle cx="486.3" cy="170.3" r="2.25"/><circle cx="535.7" cy="117.2" r="2.25"/><circle cx="539.9" cy="110.1" r="2.25"/><circle cx="548.5" cy="117.7" r="2.25"/><circle cx="520.0" cy="155.7" r="2.25"/><circle cx="497.5" cy="164.1" r="2.25"/><circle cx="559.1" cy="99.1" r="2.25"/><circle cx="510.8" cy="161.2" r="2.25"/><circle cx="497.3" cy="148.8" r="2.25"/><circle cx="539.5" cy="116.5" r="2.25"/><circle cx="484.2" cy="166.5" r="2.25"/><circle cx="520.2" cy="155.7" r="2.25"/><circle cx="485.8" cy="173.5" r="2.25"/><circle cx="526.5" cy="142.5" r="2.25"/><circle cx="519.3" cy="137.0" r="2.25"/><circle cx="540.9" cy="125.7" r="2.25"/><circle cx="518.2" cy="156.6" r="2.25"/><circle cx="538.9" cy="121.5" r="2.25"/><circle cx="515.1" cy="129.1" r="2.25"/><circle cx="527.7" cy="143.1" r="2.25"/><circle cx="528.7" cy="121.6" r="2.25"/><circle cx="496.9" cy="147.4" r="2.25"/><circle cx="546.7" cy="116.2" r="2.25"/><circle cx="540.2" cy="127.2" r="2.25"/><circle cx="505.5" cy="134.6" r="2.25"/><circle cx="519.1" cy="142.9" r="2.25"/><circle cx="555.5" cy="96.3" r="2.25"/><circle cx="554.7" cy="115.6" r="2.25"/><circle cx="561.0" cy="101.6" r="2.25"/><circle cx="525.6" cy="129.9" r="2.25"/><circle cx="532.8" cy="145.6" r="2.25"/><circle cx="527.5" cy="128.6" r="2.25"/><circle cx="539.2" cy="114.9" r="2.25"/><circle cx="512.8" cy="127.7" r="2.25"/><circle cx="554.1" cy="102.9" r="2.25"/><circle cx="518.5" cy="135.1" r="2.25"/><circle cx="505.3" cy="160.8" r="2.25"/><circle cx="506.0" cy="138.2" r="2.25"/><circle cx="543.5" cy="126.1" r="2.25"/><circle cx="487.8" cy="173.8" r="2.25"/><circle cx="564.2" cy="95.2" r="2.25"/><circle cx="548.8" cy="105.8" r="2.25"/><circle cx="547.8" cy="126.3" r="2.25"/><circle cx="507.2" cy="151.6" r="2.25"/><circle cx="534.1" cy="124.3" r="2.25"/><circle cx="512.5" cy="143.7" r="2.25"/><circle cx="566.0" cy="87.1" r="2.25"/><circle cx="499.3" cy="140.1" r="2.25"/><circle cx="528.7" cy="127.9" r="2.25"/><circle cx="493.8" cy="148.9" r="2.25"/><circle cx="533.0" cy="120.9" r="2.25"/><circle cx="555.8" cy="97.8" r="2.25"/><circle cx="510.6" cy="131.9" r="2.25"/><circle cx="568.3" cy="89.1" r="2.25"/><circle cx="533.0" cy="143.3" r="2.25"/><circle cx="543.8" cy="120.0" r="2.25"/><circle cx="544.5" cy="111.2" r="2.25"/><circle cx="566.1" cy="96.2" r="2.25"/><circle cx="539.6" cy="125.6" r="2.25"/><circle cx="490.2" cy="164.9" r="2.25"/><circle cx="503.1" cy="161.9" r="2.25"/><circle cx="487.1" cy="175.0" r="2.25"/><circle cx="505.0" cy="167.3" r="2.25"/><circle cx="549.6" cy="110.7" r="2.25"/><circle cx="517.1" cy="150.9" r="2.25"/><circle cx="494.4" cy="161.2" r="2.25"/><circle cx="528.5" cy="125.0" r="2.25"/><circle cx="508.2" cy="149.9" r="2.25"/><circle cx="525.9" cy="131.3" r="2.25"/><circle cx="501.0" cy="159.8" r="2.25"/><circle cx="536.6" cy="137.2" r="2.25"/><circle cx="525.8" cy="130.1" r="2.25"/><circle cx="563.3" cy="96.9" r="2.25"/><circle cx="554.7" cy="114.9" r="2.25"/><circle cx="518.5" cy="142.5" r="2.25"/><circle cx="519.6" cy="130.5" r="2.25"/><circle cx="565.7" cy="86.3" r="2.25"/><circle cx="502.5" cy="146.8" r="2.25"/><circle cx="528.5" cy="123.8" r="2.25"/><circle cx="523.0" cy="133.2" r="2.25"/><circle cx="533.6" cy="144.2" r="2.25"/><circle cx="547.9" cy="126.4" r="2.25"/><circle cx="538.0" cy="127.1" r="2.25"/><circle cx="554.2" cy="98.0" r="2.25"/><circle cx="520.3" cy="152.2" r="2.25"/><circle cx="488.4" cy="164.9" r="2.25"/><circle cx="533.8" cy="122.3" r="2.25"/><circle cx="522.2" cy="151.0" r="2.25"/><circle cx="515.3" cy="135.2" r="2.25"/><circle cx="526.4" cy="124.8" r="2.25"/><circle cx="534.2" cy="137.7" r="2.25"/><circle cx="533.1" cy="129.8" r="2.25"/><circle cx="528.2" cy="147.4" r="2.25"/><circle cx="511.9" cy="138.9" r="2.25"/><circle cx="532.7" cy="137.0" r="2.25"/><circle cx="510.4" cy="132.9" r="2.25"/><circle cx="527.6" cy="130.5" r="2.25"/><circle cx="537.0" cy="116.3" r="2.25"/><circle cx="517.4" cy="157.1" r="2.25"/><circle cx="526.2" cy="135.1" r="2.25"/><circle cx="541.4" cy="133.0" r="2.25"/><circle cx="534.1" cy="121.7" r="2.25"/><circle cx="508.4" cy="150.3" r="2.25"/><circle cx="558.7" cy="111.6" r="2.25"/><circle cx="515.2" cy="150.6" r="2.25"/><circle cx="507.0" cy="165.3" r="2.25"/><circle cx="556.3" cy="106.0" r="2.25"/><circle cx="529.9" cy="119.3" r="2.25"/><circle cx="502.9" cy="161.5" r="2.25"/><circle cx="557.6" cy="98.1" r="2.25"/><circle cx="549.2" cy="118.5" r="2.25"/><circle cx="564.5" cy="94.6" r="2.25"/><circle cx="554.2" cy="119.2" r="2.25"/><circle cx="493.5" cy="163.0" r="2.25"/><circle cx="532.8" cy="117.0" r="2.25"/><circle cx="543.2" cy="116.1" r="2.25"/><circle cx="500.8" cy="162.6" r="2.25"/><circle cx="507.1" cy="143.0" r="2.25"/><circle cx="548.6" cy="107.0" r="2.25"/><circle cx="545.3" cy="115.9" r="2.25"/><circle cx="539.5" cy="125.6" r="2.25"/><circle cx="546.7" cy="123.3" r="2.25"/><circle cx="540.5" cy="134.2" r="2.25"/><circle cx="528.0" cy="124.9" r="2.25"/><circle cx="565.7" cy="96.4" r="2.25"/><circle cx="509.5" cy="159.7" r="2.25"/><circle cx="547.0" cy="125.2" r="2.25"/><circle cx="513.0" cy="134.9" r="2.25"/><circle cx="560.3" cy="105.6" r="2.25"/><circle cx="533.3" cy="142.1" r="2.25"/><circle cx="506.0" cy="137.7" r="2.25"/><circle cx="504.3" cy="145.2" r="2.25"/><circle cx="520.2" cy="145.6" r="2.25"/><circle cx="532.9" cy="115.8" r="2.25"/><circle cx="537.6" cy="111.0" r="2.25"/><circle cx="541.5" cy="111.2" r="2.25"/><circle cx="542.8" cy="118.0" r="2.25"/><circle cx="517.9" cy="132.9" r="2.25"/><circle cx="486.9" cy="164.1" r="2.25"/><circle cx="527.8" cy="138.4" r="2.25"/><circle cx="554.5" cy="95.9" r="2.25"/><circle cx="506.0" cy="149.5" r="2.25"/><circle cx="557.2" cy="100.5" r="2.25"/><circle cx="505.0" cy="147.6" r="2.25"/><circle cx="572.3" cy="84.4" r="2.25"/><circle cx="515.5" cy="127.8" r="2.25"/><circle cx="512.3" cy="127.0" r="2.25"/><circle cx="543.9" cy="108.7" r="2.25"/><circle cx="533.5" cy="132.7" r="2.25"/><circle cx="527.4" cy="142.7" r="2.25"/><circle cx="531.6" cy="121.2" r="2.25"/><circle cx="520.9" cy="136.5" r="2.25"/><circle cx="511.8" cy="155.8" r="2.25"/><circle cx="502.8" cy="149.2" r="2.25"/><circle cx="508.8" cy="153.5" r="2.25"/><circle cx="516.8" cy="146.9" r="2.25"/><circle cx="509.6" cy="129.5" r="2.25"/><circle cx="530.4" cy="138.4" r="2.25"/><circle cx="509.2" cy="152.7" r="2.25"/><circle cx="554.6" cy="112.1" r="2.25"/><circle cx="524.0" cy="144.6" r="2.25"/><circle cx="498.7" cy="154.1" r="2.25"/><circle cx="554.8" cy="105.9" r="2.25"/><circle cx="526.3" cy="142.8" r="2.25"/><circle cx="536.4" cy="125.6" r="2.25"/><circle cx="486.8" cy="174.6" r="2.25"/><circle cx="565.1" cy="94.4" r="2.25"/><circle cx="511.5" cy="129.7" r="2.25"/><circle cx="550.1" cy="108.7" r="2.25"/><circle cx="517.1" cy="135.4" r="2.25"/><circle cx="542.1" cy="134.2" r="2.25"/><circle cx="501.4" cy="140.5" r="2.25"/><circle cx="508.5" cy="143.8" r="2.25"/><circle cx="514.1" cy="150.0" r="2.25"/><circle cx="529.1" cy="140.6" r="2.25"/><circle cx="508.3" cy="142.2" r="2.25"/><circle cx="498.2" cy="140.6" r="2.25"/><circle cx="528.9" cy="132.6" r="2.25"/><circle cx="511.8" cy="158.5" r="2.25"/><circle cx="546.4" cy="125.3" r="2.25"/><circle cx="512.9" cy="132.0" r="2.25"/><circle cx="548.7" cy="108.9" r="2.25"/><circle cx="500.1" cy="161.4" r="2.25"/><circle cx="548.1" cy="110.8" r="2.25"/><circle cx="548.1" cy="118.1" r="2.25"/><circle cx="552.6" cy="118.7" r="2.25"/><circle cx="535.9" cy="126.5" r="2.25"/><circle cx="520.3" cy="129.2" r="2.25"/><circle cx="551.0" cy="120.8" r="2.25"/><circle cx="548.0" cy="128.4" r="2.25"/><circle cx="546.0" cy="122.3" r="2.25"/><circle cx="564.4" cy="96.8" r="2.25"/><circle cx="527.6" cy="122.6" r="2.25"/><circle cx="522.8" cy="129.0" r="2.25"/><circle cx="512.7" cy="158.4" r="2.25"/><circle cx="529.8" cy="121.5" r="2.25"/><circle cx="556.7" cy="110.5" r="2.25"/><circle cx="561.0" cy="96.8" r="2.25"/><circle cx="507.9" cy="135.7" r="2.25"/><circle cx="561.3" cy="97.4" r="2.25"/><circle cx="522.8" cy="151.5" r="2.25"/><circle cx="536.4" cy="133.9" r="2.25"/><circle cx="498.6" cy="169.9" r="2.25"/><circle cx="500.7" cy="152.8" r="2.25"/><circle cx="555.8" cy="111.1" r="2.25"/><circle cx="536.2" cy="126.4" r="2.25"/><circle cx="534.4" cy="116.2" r="2.25"/><circle cx="492.7" cy="171.5" r="2.25"/><circle cx="485.0" cy="165.6" r="2.25"/><circle cx="526.1" cy="133.4" r="2.25"/><circle cx="530.1" cy="130.7" r="2.25"/><circle cx="515.6" cy="131.8" r="2.25"/><circle cx="566.3" cy="91.0" r="2.25"/><circle cx="510.3" cy="159.2" r="2.25"/><circle cx="548.7" cy="115.9" r="2.25"/><circle cx="535.7" cy="124.0" r="2.25"/><circle cx="501.1" cy="161.8" r="2.25"/><circle cx="547.9" cy="119.9" r="2.25"/><circle cx="518.1" cy="139.9" r="2.25"/><circle cx="503.1" cy="148.9" r="2.25"/><circle cx="494.7" cy="161.1" r="2.25"/><circle cx="493.3" cy="171.8" r="2.25"/><circle cx="558.0" cy="106.7" r="2.25"/><circle cx="512.3" cy="145.2" r="2.25"/><circle cx="513.8" cy="132.1" r="2.25"/><circle cx="515.4" cy="153.3" r="2.25"/><circle cx="504.1" cy="154.7" r="2.25"/><circle cx="531.0" cy="122.6" r="2.25"/><circle cx="544.5" cy="118.8" r="2.25"/><circle cx="556.4" cy="115.7" r="2.25"/><circle cx="554.9" cy="112.7" r="2.25"/><circle cx="532.4" cy="146.1" r="2.25"/><circle cx="504.8" cy="142.3" r="2.25"/><circle cx="554.5" cy="120.1" r="2.25"/><circle cx="551.2" cy="115.2" r="2.25"/><circle cx="528.6" cy="146.0" r="2.25"/><circle cx="516.6" cy="137.0" r="2.25"/><circle cx="561.0" cy="97.3" r="2.25"/><circle cx="539.7" cy="115.0" r="2.25"/><circle cx="556.4" cy="102.7" r="2.25"/><circle cx="535.1" cy="120.7" r="2.25"/><circle cx="502.5" cy="135.7" r="2.25"/><circle cx="532.9" cy="130.8" r="2.25"/><circle cx="520.0" cy="151.9" r="2.25"/><circle cx="524.9" cy="143.1" r="2.25"/><circle cx="500.3" cy="168.2" r="2.25"/><circle cx="522.0" cy="138.1" r="2.25"/><circle cx="547.6" cy="124.4" r="2.25"/><circle cx="500.0" cy="170.5" r="2.25"/><circle cx="494.5" cy="158.9" r="2.25"/></g>
<polygon points="435.2,190.7 444.4,184.9 453.6,179.1 462.7,173.2 471.9,167.3 481.1,161.3 490.2,155.2 499.4,149.1 508.6,143.0 517.8,136.7 527.0,130.4 536.1,124.1 545.3,117.7 554.5,111.2 563.7,104.7 572.8,98.1 582.0,91.5 591.2,84.8 600.4,78.1 609.5,71.3 618.7,64.4 618.7,74.6 609.5,80.4 600.4,86.2 591.2,92.1 582.0,98.0 572.8,104.0 563.7,110.1 554.5,116.2 545.3,122.3 536.1,128.6 527.0,134.8 517.8,141.2 508.6,147.6 499.4,154.1 490.2,160.6 481.1,167.2 471.9,173.8 462.7,180.5 453.6,187.2 444.4,194.0 435.2,200.9" fill="#999" fill-opacity="0.3"/>
<polygon points="435.2,193.7 444.4,187.3 453.6,181.0 462.7,174.7 471.9,168.4 481.1,162.1 490.2,155.8 499.4,149.4 508.6,143.1 517.8,136.8 527.0,130.5 536.1,124.1 545.3,117.7 554.5,111.3 563.7,104.9 572.8,98.5 582.0,92.1 591.2,85.7 600.4,79.3 609.5,72.9 618.7,66.5 618.7,72.5 609.5,78.8 600.4,85.0 591.2,91.2 582.0,97.5 572.8,103.7 563.7,109.9 554.5,116.1 545.3,122.3 536.1,128.6 527.0,134.8 517.8,141.1 508.6,147.4 499.4,153.7 490.2,160.1 481.1,166.4 471.9,172.7 462.7,179.0 453.6,185.3 444.4,191.6 435.2,198.0" fill="rgb(160,170,212)" fill-opacity="0.5"/>
<text x="614.00" y="32.20" font-size="11.20" text-anchor="end" fill="#333" textLength="35.4" lengthAdjust="spacingAndGlyphs" >A5ULH1</text>
<text x="628.00" y="60.30" font-size="11.20" text-anchor="end" fill="#333" textLength="39" lengthAdjust="spacingAndGlyphs" >A5UMN7</text>
<text x="581.70" y="66.30" font-size="11.20" text-anchor="end" fill="#333" textLength="34.7" lengthAdjust="spacingAndGlyphs" >A5ULY4</text>
<text x="585.10" y="78.00" font-size="11.20" text-anchor="start" fill="#333" textLength="35.5" lengthAdjust="spacingAndGlyphs" >A5UJA6</text>
<text x="583.80" y="86.00" font-size="11.20" text-anchor="start" fill="#333" textLength="36" lengthAdjust="spacingAndGlyphs" >A5ULZ3</text>
<text x="470.00" y="77.40" font-size="11.20" text-anchor="end" fill="#333" textLength="36.8" lengthAdjust="spacingAndGlyphs" >A5UKH4</text>
<text x="495.50" y="70.30" font-size="11.20" text-anchor="start" fill="#333" textLength="37.3" lengthAdjust="spacingAndGlyphs" >A5UNS3</text>
<text x="448.50" y="119.40" font-size="11.20" text-anchor="end" fill="#333" textLength="34.2" lengthAdjust="spacingAndGlyphs" >A5UL13</text>
<text x="464.80" y="114.90" font-size="11.20" text-anchor="start" fill="#333" textLength="36.8" lengthAdjust="spacingAndGlyphs" >A5ULB9</text>
<text x="430.60" y="148.80" font-size="11.20" text-anchor="end" fill="#333" textLength="34.6" lengthAdjust="spacingAndGlyphs" >A5UP24</text>
<text transform="translate(-0.40,271.70) scale(0.8929,1)" font-size="16.13" text-anchor="start" fill="#222" >C</text>
<polygon points="104.7,484.0 101.3,473.7 98.7,461.7 96.1,449.7 94.4,441.1 91.0,432.6 88.4,427.4 85.0,417.1 82.4,406.9 79.0,400.0 68.7,401.7 73.8,406.9 75.6,413.7 73.8,422.3 77.3,430.8 80.7,441.1 84.1,453.1 85.8,465.1 89.3,473.7 96.1,480.5 101.3,484.0" fill="#bdbdbd"/>
<polygon points="104.3,482.2 107.7,468.5 110.3,456.5 113.7,444.5 116.3,434.2 118.8,425.7 122.3,415.4 124.8,405.1 128.3,403.4 130.0,410.3 127.4,422.3 126.5,434.2 125.7,446.2 123.1,456.5 118.8,466.8 113.7,475.3 106.8,483.0" fill="#bdbdbd"/>
<g fill="#bdbdbd"><circle cx="56.0" cy="374.0" r="2.6"/><circle cx="57.3" cy="370.7" r="2.6"/><circle cx="65.3" cy="385.3" r="2.6"/><circle cx="70.0" cy="387.3" r="2.6"/><circle cx="71.3" cy="391.3" r="2.6"/><circle cx="63.3" cy="392.0" r="2.6"/><circle cx="68.6" cy="397.3" r="2.6"/><circle cx="71.3" cy="400.6" r="2.6"/><circle cx="70.0" cy="404.0" r="2.6"/><circle cx="78.6" cy="402.6" r="2.6"/><circle cx="60.4" cy="404.9" r="2.6"/><circle cx="47.3" cy="407.9" r="2.6"/><circle cx="76.6" cy="409.3" r="2.6"/><circle cx="81.9" cy="408.0" r="2.6"/><circle cx="66.0" cy="414.0" r="2.6"/><circle cx="77.9" cy="415.3" r="2.6"/><circle cx="64.0" cy="421.3" r="2.6"/><circle cx="67.3" cy="420.0" r="2.6"/><circle cx="75.9" cy="421.3" r="2.6"/><circle cx="63.3" cy="423.3" r="2.6"/><circle cx="71.3" cy="427.3" r="2.6"/><circle cx="80.6" cy="423.3" r="2.6"/><circle cx="84.6" cy="424.6" r="2.6"/><circle cx="59.3" cy="431.5" r="2.6"/><circle cx="63.3" cy="432.8" r="2.6"/><circle cx="71.3" cy="433.9" r="2.6"/><circle cx="76.6" cy="429.9" r="2.6"/><circle cx="88.6" cy="431.3" r="2.6"/><circle cx="83.3" cy="433.9" r="2.6"/><circle cx="80.6" cy="439.2" r="2.6"/><circle cx="89.9" cy="436.6" r="2.6"/><circle cx="42.9" cy="352.9" r="2.6"/><circle cx="50.8" cy="360.8" r="2.6"/><circle cx="62.4" cy="360.0" r="2.6"/><circle cx="66.5" cy="366.9" r="2.6"/><circle cx="57.4" cy="369.1" r="2.6"/><circle cx="55.8" cy="374.2" r="2.6"/><circle cx="145.3" cy="377.4" r="2.6"/><circle cx="147.1" cy="380.3" r="2.6"/><circle cx="144.2" cy="383.1" r="2.6"/><circle cx="140.8" cy="386.5" r="2.6"/><circle cx="146.5" cy="390.5" r="2.6"/><circle cx="130.5" cy="392.8" r="2.6"/><circle cx="135.3" cy="396.0" r="2.6"/><circle cx="155.6" cy="395.3" r="2.6"/><circle cx="169.1" cy="390.5" r="2.6"/><circle cx="128.2" cy="403.1" r="2.6"/><circle cx="126.0" cy="404.2" r="2.6"/><circle cx="137.4" cy="405.3" r="2.6"/><circle cx="140.2" cy="408.8" r="2.6"/><circle cx="151.3" cy="404.0" r="2.6"/><circle cx="147.6" cy="411.0" r="2.6"/><circle cx="162.5" cy="409.3" r="2.6"/><circle cx="177.3" cy="404.2" r="2.6"/><circle cx="130.5" cy="411.0" r="2.6"/><circle cx="132.8" cy="414.5" r="2.6"/><circle cx="124.8" cy="415.6" r="2.6"/><circle cx="126.0" cy="419.0" r="2.6"/><circle cx="133.4" cy="419.0" r="2.6"/><circle cx="144.8" cy="418.5" r="2.6"/><circle cx="162.5" cy="420.2" r="2.6"/><circle cx="176.7" cy="415.6" r="2.6"/><circle cx="120.8" cy="425.9" r="2.6"/><circle cx="126.0" cy="427.0" r="2.6"/><circle cx="133.4" cy="425.9" r="2.6"/><circle cx="164.2" cy="429.3" r="2.6"/><circle cx="187.1" cy="382.8" r="2.6"/><circle cx="170.0" cy="390.6" r="2.6"/><circle cx="191.7" cy="397.9" r="2.6"/><circle cx="212.8" cy="394.8" r="2.6"/><circle cx="176.8" cy="403.9" r="2.6"/><circle cx="176.6" cy="415.6" r="2.6"/><circle cx="188.2" cy="419.3" r="2.6"/><circle cx="133.3" cy="426.0" r="2.6"/><circle cx="162.6" cy="421.3" r="2.6"/><circle cx="188.3" cy="422.7" r="2.6"/><circle cx="164.0" cy="431.3" r="2.6"/><circle cx="140.7" cy="438.4" r="2.6"/><circle cx="144.4" cy="440.6" r="2.6"/><circle cx="132.0" cy="446.4" r="2.6"/><circle cx="142.0" cy="449.0" r="2.6"/><circle cx="137.7" cy="454.4" r="2.6"/><circle cx="134.0" cy="460.2" r="2.6"/><circle cx="150.0" cy="459.3" r="2.6"/><circle cx="131.6" cy="469.9" r="2.6"/><circle cx="138.3" cy="472.6" r="2.6"/><circle cx="128.3" cy="403.4" r="2.6"/><circle cx="137.7" cy="406.8" r="2.6"/><circle cx="147.6" cy="411.1" r="2.6"/><circle cx="132.5" cy="412.8" r="2.6"/><circle cx="133.4" cy="418.8" r="2.6"/><circle cx="144.9" cy="418.0" r="2.6"/><circle cx="133.4" cy="425.7" r="2.6"/><circle cx="127.0" cy="437.7" r="2.6"/><circle cx="140.8" cy="438.5" r="2.6"/><circle cx="144.5" cy="440.8" r="2.6"/><circle cx="131.7" cy="446.2" r="2.6"/><circle cx="127.4" cy="447.6" r="2.6"/><circle cx="142.0" cy="448.8" r="2.6"/><circle cx="137.3" cy="454.5" r="2.6"/><circle cx="128.3" cy="457.4" r="2.6"/><circle cx="133.9" cy="459.9" r="2.6"/><circle cx="149.7" cy="459.1" r="2.6"/><circle cx="131.7" cy="469.9" r="2.6"/><circle cx="138.5" cy="472.3" r="2.6"/><circle cx="120.5" cy="469.3" r="2.6"/><circle cx="116.3" cy="475.3" r="2.6"/><circle cx="60.1" cy="405.1" r="2.6"/><circle cx="70.4" cy="402.6" r="2.6"/><circle cx="78.1" cy="403.4" r="2.6"/><circle cx="66.1" cy="413.7" r="2.6"/><circle cx="62.7" cy="421.4" r="2.6"/><circle cx="67.0" cy="420.6" r="2.6"/><circle cx="71.3" cy="426.6" r="2.6"/><circle cx="60.1" cy="431.7" r="2.6"/><circle cx="62.7" cy="432.6" r="2.6"/><circle cx="71.3" cy="433.9" r="2.6"/><circle cx="75.6" cy="442.8" r="2.6"/><circle cx="63.6" cy="450.0" r="2.6"/><circle cx="57.6" cy="455.7" r="2.6"/><circle cx="79.8" cy="452.3" r="2.6"/><circle cx="78.1" cy="459.1" r="2.6"/><circle cx="75.6" cy="464.3" r="2.6"/><circle cx="82.4" cy="465.1" r="2.6"/><circle cx="89.3" cy="470.3" r="2.6"/><circle cx="87.6" cy="472.0" r="2.6"/><circle cx="47.3" cy="408.1" r="2.6"/><circle cx="57.4" cy="455.9" r="2.6"/><circle cx="63.3" cy="450.0" r="2.6"/><circle cx="75.5" cy="464.4" r="2.6"/><circle cx="141.3" cy="386.1" r="2.6"/><circle cx="147.0" cy="390.8" r="2.6"/><circle cx="155.6" cy="395.6" r="2.6"/><circle cx="168.9" cy="390.8" r="2.6"/><circle cx="187.0" cy="382.3" r="2.6"/><circle cx="191.7" cy="397.5" r="2.6"/><circle cx="212.6" cy="394.6" r="2.6"/><circle cx="127.6" cy="403.2" r="2.6"/><circle cx="137.5" cy="406.0" r="2.6"/><circle cx="150.8" cy="403.2" r="2.6"/><circle cx="162.2" cy="408.9" r="2.6"/><circle cx="176.9" cy="403.8" r="2.6"/><circle cx="147.0" cy="416.5" r="2.6"/><circle cx="176.5" cy="415.6" r="2.6"/><circle cx="187.9" cy="422.6" r="2.6"/><circle cx="163.2" cy="420.9" r="2.6"/><circle cx="104.7" cy="484.0" r="2.6"/><circle cx="101.3" cy="473.7" r="2.6"/><circle cx="98.7" cy="461.7" r="2.6"/><circle cx="96.1" cy="449.7" r="2.6"/><circle cx="94.4" cy="441.1" r="2.6"/><circle cx="91.0" cy="432.6" r="2.6"/><circle cx="88.4" cy="427.4" r="2.6"/><circle cx="85.0" cy="417.1" r="2.6"/><circle cx="82.4" cy="406.9" r="2.6"/><circle cx="79.0" cy="400.0" r="2.6"/><circle cx="68.7" cy="401.7" r="2.6"/><circle cx="73.8" cy="406.9" r="2.6"/><circle cx="75.6" cy="413.7" r="2.6"/><circle cx="73.8" cy="422.3" r="2.6"/><circle cx="77.3" cy="430.8" r="2.6"/><circle cx="80.7" cy="441.1" r="2.6"/><circle cx="84.1" cy="453.1" r="2.6"/><circle cx="85.8" cy="465.1" r="2.6"/><circle cx="89.3" cy="473.7" r="2.6"/><circle cx="96.1" cy="480.5" r="2.6"/><circle cx="101.3" cy="484.0" r="2.6"/><circle cx="104.3" cy="482.2" r="2.6"/><circle cx="107.7" cy="468.5" r="2.6"/><circle cx="110.3" cy="456.5" r="2.6"/><circle cx="113.7" cy="444.5" r="2.6"/><circle cx="116.3" cy="434.2" r="2.6"/><circle cx="118.8" cy="425.7" r="2.6"/><circle cx="122.3" cy="415.4" r="2.6"/><circle cx="124.8" cy="405.1" r="2.6"/><circle cx="128.3" cy="403.4" r="2.6"/><circle cx="130.0" cy="410.3" r="2.6"/><circle cx="127.4" cy="422.3" r="2.6"/><circle cx="126.5" cy="434.2" r="2.6"/><circle cx="125.7" cy="446.2" r="2.6"/><circle cx="123.1" cy="456.5" r="2.6"/><circle cx="118.8" cy="466.8" r="2.6"/><circle cx="113.7" cy="475.3" r="2.6"/><circle cx="106.8" cy="483.0" r="2.6"/></g>
<line x1="84.5" y1="271.2" x2="84.5" y2="492.4" stroke="#f05a4a" stroke-width="0.8" stroke-dasharray="1.5 1"/>
<line x1="123.3" y1="271.2" x2="123.3" y2="492.4" stroke="#f05a4a" stroke-width="0.8" stroke-dasharray="1.5 1"/>
<line x1="104.5" y1="271.2" x2="104.5" y2="492.4" stroke="#707070" stroke-width="0.8"/>
<rect x="29.5" y="271.2" width="304.8" height="221.2" fill="none" stroke="#8a8a8a" stroke-width="1"/>
<line x1="26.5" y1="481.30" x2="29.5" y2="481.30" stroke="#7a7a7a" stroke-width="0.9"/>
<text transform="translate(23.00,485.50) scale(0.8475,1)" font-size="12.15" text-anchor="end" fill="#333" >0</text>
<line x1="26.5" y1="454.20" x2="29.5" y2="454.20" stroke="#7a7a7a" stroke-width="0.9"/>
<text transform="translate(23.00,458.40) scale(0.8475,1)" font-size="12.15" text-anchor="end" fill="#333" >1</text>
<line x1="26.5" y1="427.10" x2="29.5" y2="427.10" stroke="#7a7a7a" stroke-width="0.9"/>
<text transform="translate(23.00,431.30) scale(0.8475,1)" font-size="12.15" text-anchor="end" fill="#333" >2</text>
<line x1="26.5" y1="400.00" x2="29.5" y2="400.00" stroke="#7a7a7a" stroke-width="0.9"/>
<text transform="translate(23.00,404.20) scale(0.8475,1)" font-size="12.15" text-anchor="end" fill="#333" >3</text>
<line x1="26.5" y1="372.90" x2="29.5" y2="372.90" stroke="#7a7a7a" stroke-width="0.9"/>
<text transform="translate(23.00,377.10) scale(0.8475,1)" font-size="12.15" text-anchor="end" fill="#333" >4</text>
<line x1="26.5" y1="345.80" x2="29.5" y2="345.80" stroke="#7a7a7a" stroke-width="0.9"/>
<text transform="translate(23.00,350.00) scale(0.8475,1)" font-size="12.15" text-anchor="end" fill="#333" >5</text>
<line x1="26.5" y1="318.70" x2="29.5" y2="318.70" stroke="#7a7a7a" stroke-width="0.9"/>
<text transform="translate(23.00,322.90) scale(0.8475,1)" font-size="12.15" text-anchor="end" fill="#333" >6</text>
<line x1="26.5" y1="291.60" x2="29.5" y2="291.60" stroke="#7a7a7a" stroke-width="0.9"/>
<text transform="translate(23.00,295.80) scale(0.8475,1)" font-size="12.15" text-anchor="end" fill="#333" >7</text>
<line x1="29.5" y1="492.4" x2="29.5" y2="495.59999999999997" stroke="#7a7a7a" stroke-width="0.9"/>
<text transform="translate(29.50,507.60) scale(0.8696,1)" font-size="11.85" text-anchor="middle" fill="#333" >4</text>
<line x1="66.8" y1="492.4" x2="66.8" y2="495.59999999999997" stroke="#7a7a7a" stroke-width="0.9"/>
<text transform="translate(66.80,507.60) scale(0.8696,1)" font-size="11.85" text-anchor="middle" fill="#333" >2</text>
<line x1="109.7" y1="492.4" x2="109.7" y2="495.59999999999997" stroke="#7a7a7a" stroke-width="0.9"/>
<text transform="translate(109.70,507.60) scale(0.8696,1)" font-size="11.85" text-anchor="middle" fill="#333" >0</text>
<line x1="152.5" y1="492.4" x2="152.5" y2="495.59999999999997" stroke="#7a7a7a" stroke-width="0.9"/>
<text transform="translate(152.50,507.60) scale(0.8696,1)" font-size="11.85" text-anchor="middle" fill="#333" >2</text>
<line x1="194.8" y1="492.4" x2="194.8" y2="495.59999999999997" stroke="#7a7a7a" stroke-width="0.9"/>
<text transform="translate(194.80,507.60) scale(0.8696,1)" font-size="11.85" text-anchor="middle" fill="#333" >4</text>
<line x1="237.8" y1="492.4" x2="237.8" y2="495.59999999999997" stroke="#7a7a7a" stroke-width="0.9"/>
<text transform="translate(237.80,507.60) scale(0.8696,1)" font-size="11.85" text-anchor="middle" fill="#333" >6</text>
<line x1="280.7" y1="492.4" x2="280.7" y2="495.59999999999997" stroke="#7a7a7a" stroke-width="0.9"/>
<text transform="translate(280.70,507.60) scale(0.8696,1)" font-size="11.85" text-anchor="middle" fill="#333" >8</text>
<line x1="323.7" y1="492.4" x2="323.7" y2="495.59999999999997" stroke="#7a7a7a" stroke-width="0.9"/>
<text transform="translate(323.70,507.60) scale(0.8696,1)" font-size="11.85" text-anchor="middle" fill="#333" >10</text>
<text x="181.6" y="523.3" font-size="12" text-anchor="middle" fill="#333" textLength="84.1" lengthAdjust="spacingAndGlyphs">log<tspan font-size="5.5" dy="2.5">2</tspan><tspan dy="-2.5"> fold change</tspan></text>
<text transform="translate(9.9,381.75) rotate(-90)" font-size="12.2" text-anchor="middle" fill="#333" textLength="129" lengthAdjust="spacingAndGlyphs">-log<tspan font-size="6" dy="2.5">10</tspan><tspan dy="-2.5"> (adjusted P-value)</tspan></text>
<text transform="translate(36.00,485.20) scale(0.9259,1)" font-size="11.66" text-anchor="start" fill="#333" >Cells</text>
<text transform="translate(328.40,485.20) scale(0.9259,1)" font-size="11.66" text-anchor="end" fill="#333" >EVs</text>
<g fill="#0aa3a2"><circle cx="319.9" cy="281.6" r="2.85"/><circle cx="271.2" cy="326.5" r="2.85"/><circle cx="302.8" cy="334.4" r="2.85"/><circle cx="246.4" cy="335.7" r="2.85"/><circle cx="243.4" cy="341.9" r="2.85"/><circle cx="219.4" cy="340.1" r="2.85"/><circle cx="201.8" cy="349.2" r="2.85"/><circle cx="206.3" cy="360.9" r="2.85"/><circle cx="196.8" cy="365.1" r="2.85"/><circle cx="156.2" cy="347.7" r="2.85"/><circle cx="166.4" cy="349.8" r="2.85"/><circle cx="144.6" cy="370.1" r="2.85"/><circle cx="179.1" cy="370" r="2.85"/></g>
<text transform="translate(311.40,294.00) scale(0.8929,1)" font-size="11.54" text-anchor="middle" fill="#333" >A5UKH4</text>
<text transform="translate(286.60,322.50) scale(0.8929,1)" font-size="11.54" text-anchor="middle" fill="#333" >A5UL13</text>
<text transform="translate(306.50,347.30) scale(0.8929,1)" font-size="11.54" text-anchor="middle" fill="#333" >A5UNS3</text>
<text transform="translate(242.70,331.40) scale(0.8929,1)" font-size="11.54" text-anchor="middle" fill="#333" >A5UP24</text>
<text transform="translate(259.80,354.70) scale(0.8929,1)" font-size="11.54" text-anchor="middle" fill="#333" >A5ULB9</text>
<text transform="translate(200.30,335.70) scale(0.8929,1)" font-size="11.54" text-anchor="middle" fill="#333" >A5UMG4</text>
<text transform="translate(191.90,345.10) scale(0.8929,1)" font-size="11.54" text-anchor="middle" fill="#333" >A5UNK8</text>
<text transform="translate(227.00,366.40) scale(0.8929,1)" font-size="11.54" text-anchor="middle" fill="#333" >A5UJJ6</text>
<text transform="translate(210.20,378.50) scale(0.8929,1)" font-size="11.54" text-anchor="middle" fill="#333" >A5UKL7</text>
<text transform="translate(138.50,343.20) scale(0.8929,1)" font-size="11.54" text-anchor="middle" fill="#333" >A5ULH1</text>
<text transform="translate(168.90,362.80) scale(0.8929,1)" font-size="11.54" text-anchor="middle" fill="#333" >A5ULH2</text>
<text transform="translate(123.30,374.20) scale(0.8929,1)" font-size="11.54" text-anchor="middle" fill="#333" >A5ULI9</text>
<text transform="translate(169.50,382.70) scale(0.8929,1)" font-size="11.54" text-anchor="middle" fill="#333" >A5UJM0</text>
</svg></body></html>
